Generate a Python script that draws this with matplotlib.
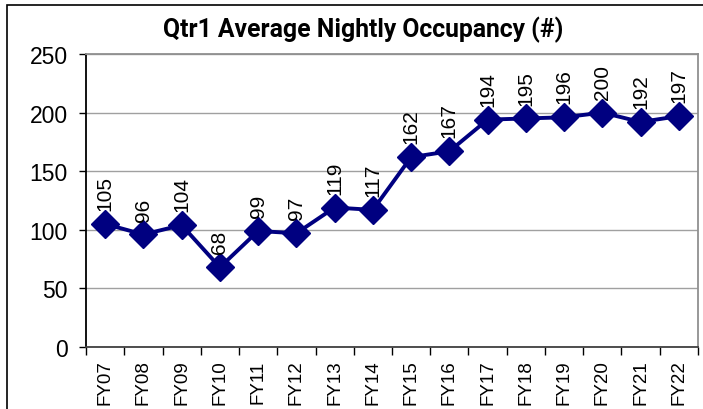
import numpy as np
import matplotlib
matplotlib.use("Agg")
import matplotlib.pyplot as plt
from matplotlib.patches import Rectangle

# ── Data ──────────────────────────────────────────────────────────────────────
years = ["FY07", "FY08", "FY09", "FY10", "FY11", "FY12", "FY13", "FY14",
         "FY15", "FY16", "FY17", "FY18", "FY19", "FY20", "FY21", "FY22"]
occupancy = [105, 96, 104, 68, 99, 97, 119, 117, 162, 167, 194, 195, 196, 200, 192, 197]
y_ticks = [0, 50, 100, 150, 200, 250]

plt.rcParams["font.family"] = ["Liberation Sans", "DejaVu Sans"]

W, H = 703, 410
fig = plt.figure(figsize=(W / 100, H / 100), dpi=100)

# outer chart frame (cut off at right/bottom like the reference)
fig.patches.append(Rectangle((7 / W, -0.1), 1.2, 1 - 6 / H + 0.1,
                             transform=fig.transFigure, fill=False,
                             edgecolor="black", linewidth=1.2))

ax = fig.add_axes([86 / W, 1 - 348 / H, (698 - 86) / W, (348 - 55) / H])

x = np.arange(len(years))
ax.plot(x, occupancy, color="#000080", linewidth=2.8, marker="D",
        markersize=14, zorder=3)

for xi, v in zip(x, occupancy):
    ax.annotate(str(v), (xi, v), xytext=(0, 10), textcoords="offset points",
                rotation=90, ha="center", va="bottom", fontsize=15)

ax.set_xlim(-0.5, len(years) - 0.5)
ax.set_ylim(0, 250)
ax.set_yticks(y_ticks)
ax.set_yticklabels([str(t) for t in y_ticks], fontsize=16.5)
ax.set_xticks(x)
ax.set_xticklabels(years, rotation=90, fontsize=13.5)
ax.set_xticks(np.arange(-0.5, len(years)), minor=True)
ax.tick_params(axis="x", which="major", length=0, pad=9)
ax.tick_params(axis="x", which="minor", length=6, width=1, color="black")
ax.tick_params(axis="y", length=5, width=1, pad=8)

ax.grid(axis="y", color="#a0a0a0", linewidth=1)
ax.set_axisbelow(True)
ax.spines["left"].set_color("black")
ax.spines["left"].set_linewidth(1.3)
ax.spines["bottom"].set_color("#404040")
ax.spines["bottom"].set_linewidth(1.3)
for s in ("top", "right"):
    ax.spines[s].set_color("#909090")
    ax.spines[s].set_linewidth(1.3)

fig.text(363 / W, 1 - 30 / H, "Qtr1 Average Nightly Occupancy (#)",
         ha="center", va="center", fontsize=17.8, fontweight="bold",
         family=["Roboto", "DejaVu Sans"])

fig.savefig("out.png", dpi=100)
